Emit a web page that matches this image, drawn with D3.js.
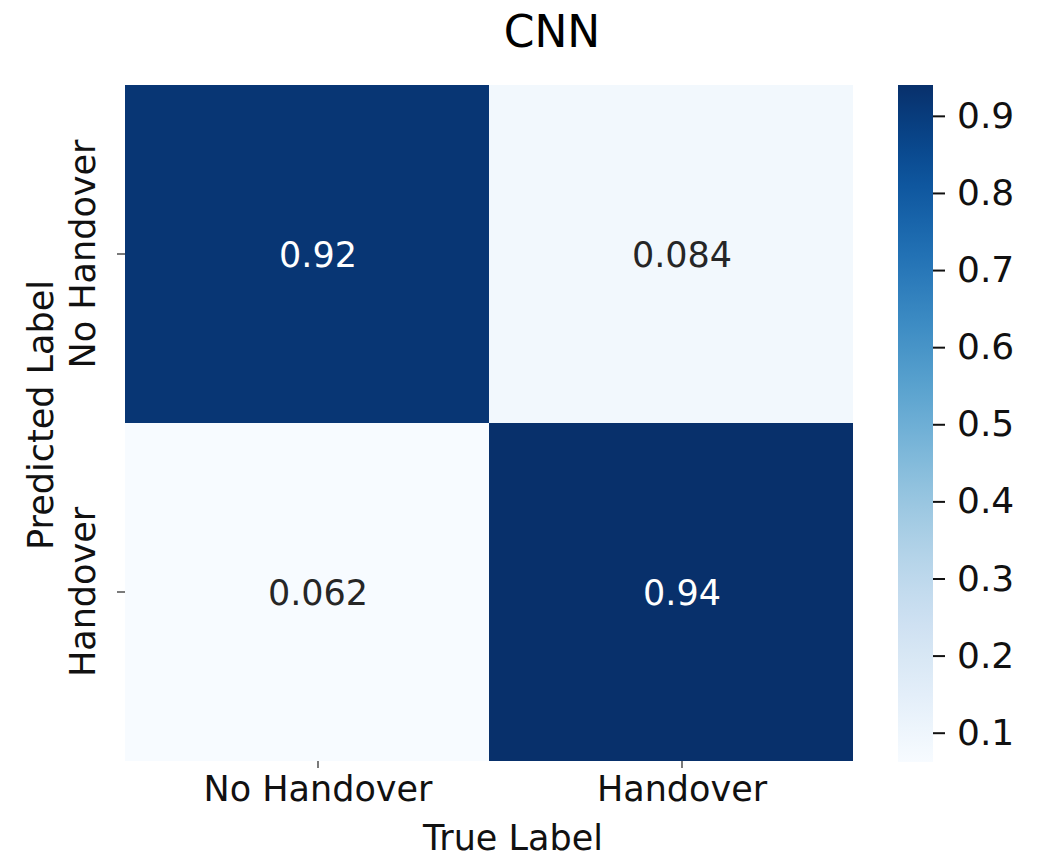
<!DOCTYPE html>
<html>
<head>
<meta charset="utf-8">
<script src="https://cdn.jsdelivr.net/npm/d3@7"></script>
<style>
  body { margin: 0; background: #fff; }
  svg { font-family: "DejaVu Sans", sans-serif; }
</style>
</head>
<body>
<svg id="chart" width="1040" height="857"></svg>
<script>
// confusion matrix: rows = predicted label, cols = true label
var predictedLabels = ["No Handover", "Handover"];
var trueLabels = ["No Handover", "Handover"];
var rowNoHandover = [0.92, 0.084];
var rowHandover = [0.062, 0.94];
var cbTicks = [0.1, 0.2, 0.3, 0.4, 0.5, 0.6, 0.7, 0.8, 0.9];
var chartTitle = "CNN";

var matrix = [rowNoHandover, rowHandover];
var cells = [];
matrix.forEach(function (row, i) {
    row.forEach(function (v, j) {
        cells.push({ pred: predictedLabels[i], truth: trueLabels[j], value: v });
    });
});

var svg = d3.select("#chart");

var hmLeft = 125, hmRight = 853, hmTop = 85, hmBottom = 761;
var labelShift = 11; // ticks/annotations sit a bit right of cell centres in the source

var xScale = d3.scaleBand().domain(trueLabels).range([hmLeft, hmRight]);
var yScale = d3.scaleBand().domain(predictedLabels).range([hmTop, hmBottom]);

var vals = cells.map(d => d.value);
var extent = d3.extent(vals);
var color = d3.scaleSequential(d3.interpolateBlues).domain(extent);

// cells
svg.append("g").selectAll("rect")
    .data(cells)
    .enter().append("rect")
    .attr("x", d => xScale(d.truth))
    .attr("y", d => yScale(d.pred))
    .attr("width", xScale.bandwidth())
    .attr("height", yScale.bandwidth())
    .attr("fill", d => color(d.value))
    .attr("shape-rendering", "crispEdges");

// annotations
var fmt = d3.format(".2~g");
svg.append("g").selectAll("text")
    .data(cells)
    .enter().append("text")
    .attr("x", d => xScale(d.truth) + xScale.bandwidth() / 2 + labelShift)
    .attr("y", d => yScale(d.pred) + yScale.bandwidth() / 2)
    .attr("dy", "0.38em")
    .attr("text-anchor", "middle")
    .style("font-size", "35px")
    .style("fill", d => d3.hsl(color(d.value)).l < 0.5 ? "#ffffff" : "#262626")
    .text(d => fmt(d.value));

// x axis
var xAxis = svg.append("g")
    .attr("transform", "translate(" + labelShift + "," + hmBottom + ")")
    .call(d3.axisBottom(xScale).tickSize(7).tickPadding(8));
xAxis.select(".domain").remove();
xAxis.selectAll("line").attr("stroke", "#222").attr("stroke-width", 1.2);
xAxis.selectAll("text")
    .attr("font-family", "DejaVu Sans")
    .style("font-size", "35px")
    .attr("fill", "#111")
    .attr("dy", "0.71em");

// y axis with vertical labels
var yAxis = svg.append("g")
    .attr("transform", "translate(" + hmLeft + ",0)")
    .call(d3.axisLeft(yScale).tickSize(8));
yAxis.select(".domain").remove();
yAxis.selectAll("line").attr("stroke", "#222").attr("stroke-width", 1.2);
yAxis.selectAll("text")
    .attr("font-family", "DejaVu Sans")
    .style("font-size", "35px")
    .attr("fill", "#111")
    .attr("text-anchor", "middle")
    .attr("x", 0).attr("dy", 0)
    .attr("transform", "translate(-30,0) rotate(-90)");

// axis titles
svg.append("text")
    .attr("x", 513).attr("y", 850)
    .attr("text-anchor", "middle")
    .style("font-size", "35px")
    .attr("fill", "#111")
    .text("True Label");

svg.append("text")
    .attr("transform", "translate(53,415) rotate(-90)")
    .attr("text-anchor", "middle")
    .style("font-size", "35px")
    .attr("fill", "#111")
    .text("Predicted Label");

svg.append("text")
    .attr("x", 552).attr("y", 47)
    .attr("text-anchor", "middle")
    .style("font-size", "44px")
    .attr("fill", "#000")
    .text(chartTitle);

// colorbar
var cbX = 898, cbW = 35;
var cbScale = d3.scaleLinear().domain(extent).range([hmBottom + 1, hmTop]);

var defs = svg.append("defs");
var grad = defs.append("linearGradient")
    .attr("id", "cbGrad")
    .attr("x1", "0").attr("y1", "1").attr("x2", "0").attr("y2", "0");
d3.range(0, 1.0001, 0.05).forEach(function (t) {
    grad.append("stop")
        .attr("offset", t)
        .attr("stop-color", color(extent[0] + t * (extent[1] - extent[0])));
});

svg.append("rect")
    .attr("x", cbX).attr("y", hmTop)
    .attr("width", cbW).attr("height", hmBottom + 1 - hmTop)
    .attr("fill", "url(#cbGrad)");

var cbAxis = svg.append("g")
    .attr("transform", "translate(" + (cbX + cbW) + ",0)")
    .call(d3.axisRight(cbScale).tickValues(cbTicks).tickSize(12).tickPadding(12).tickFormat(d3.format(".1f")));
cbAxis.select(".domain").remove();
cbAxis.selectAll("line").attr("stroke", "#111").attr("stroke-width", 2);
cbAxis.selectAll("text")
    .attr("font-family", "DejaVu Sans")
    .style("font-size", "36px")
    .attr("fill", "#111");
</script>
</body>
</html>
